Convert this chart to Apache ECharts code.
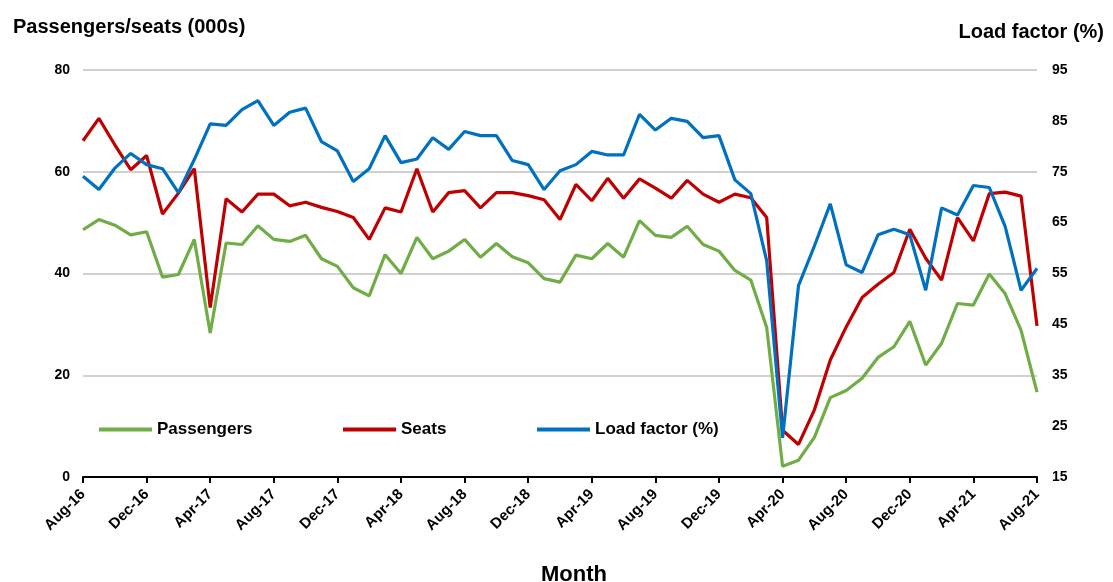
<!DOCTYPE html>
<html>
<head>
<meta charset="utf-8">
<script src="https://cdn.jsdelivr.net/npm/echarts@6/dist/echarts.min.js"></script>
<style>
html,body{margin:0;padding:0;background:#fff;}
#chart{width:1113px;height:582px;}
</style>
</head>
<body>
<div id="chart"></div>
<script>
const months = [
  'Aug-16','Sep-16','Oct-16','Nov-16','Dec-16','Jan-17','Feb-17','Mar-17','Apr-17','May-17','Jun-17','Jul-17',
  'Aug-17','Sep-17','Oct-17','Nov-17','Dec-17','Jan-18','Feb-18','Mar-18','Apr-18','May-18','Jun-18','Jul-18',
  'Aug-18','Sep-18','Oct-18','Nov-18','Dec-18','Jan-19','Feb-19','Mar-19','Apr-19','May-19','Jun-19','Jul-19',
  'Aug-19','Sep-19','Oct-19','Nov-19','Dec-19','Jan-20','Feb-20','Mar-20','Apr-20','May-20','Jun-20','Jul-20',
  'Aug-20','Sep-20','Oct-20','Nov-20','Dec-20','Jan-21','Feb-21','Mar-21','Apr-21','May-21','Jun-21','Jul-21',
  'Aug-21'
];
const passengers = [
  48.6,50.6,49.5,47.6,48.2,39.3,39.8,46.7,28.3,46.0,45.7,49.4,
  46.7,46.3,47.5,42.9,41.4,37.2,35.6,43.7,40.0,47.1,42.9,44.4,
  46.7,43.2,45.9,43.3,42.1,39.0,38.3,43.6,42.9,45.9,43.2,50.4,
  47.5,47.1,49.3,45.7,44.4,40.6,38.7,29.4,2.1,3.3,7.8,15.6,
  17.0,19.4,23.5,25.6,30.6,22.0,26.3,34.1,33.8,39.9,36.0,28.8,
  16.7
];
const seats = [
  66.1,70.5,65.3,60.4,63.2,51.7,55.8,60.6,33.3,54.7,52.1,55.6,
  55.6,53.3,54.0,53.0,52.2,51.0,46.7,52.9,52.1,60.6,52.1,55.9,
  56.3,52.9,55.9,55.9,55.3,54.5,50.6,57.5,54.3,58.7,54.8,58.6,
  56.8,54.8,58.3,55.6,54.0,55.6,54.9,51.0,9.2,6.4,13.2,23.0,
  29.5,35.3,37.9,40.2,48.7,43.0,38.7,51.0,46.4,55.7,56.0,55.2,
  29.7
];
const loadFactor = [
  74.1,71.5,75.7,78.6,76.4,75.6,70.9,77.4,84.4,84.1,87.2,89.0,
  84.1,86.7,87.5,80.9,79.1,73.1,75.6,82.1,76.8,77.5,81.7,79.4,
  82.9,82.1,82.1,77.2,76.4,71.5,75.2,76.4,79.0,78.3,78.3,86.3,
  83.2,85.5,84.9,81.7,82.1,73.4,70.7,57.5,22.7,52.6,60.4,68.7,
  56.7,55.2,62.6,63.7,62.6,51.7,67.9,66.5,72.3,71.9,64.2,51.7,
  56.0
];

const FONT = 'Liberation Sans, Arial, sans-serif';
const chart = echarts.init(document.getElementById('chart'), null, {renderer: 'canvas'});
const lineStyleFor = (c) => ({width: 3.2, color: c});
const legendText = {fontFamily: FONT, fontSize: 17, fontWeight: 'bold', color: '#000'};
const mkLegend = (name, left) => ({
  left: left, top: 416, itemWidth: 53, itemHeight: 4, icon: 'rect',
  textStyle: legendText, data: [name]
});

chart.setOption({
  animation: false,
  backgroundColor: '#ffffff',
  title: [
    {text: 'Passengers/seats (000s)', left: 8, top: 12,
      textStyle: {fontFamily: FONT, fontSize: 20, fontWeight: 'bold', color: '#000'}},
    {text: 'Load factor (%)', right: 4, top: 17,
      textStyle: {fontFamily: FONT, fontSize: 20, fontWeight: 'bold', color: '#000'}}
  ],
  graphic: [
    {type: 'text', left: 541, top: 564, z: 10,
      style: {text: 'Month', fontFamily: FONT, fontSize: 22, fontWeight: 'bold', fill: '#000'}}
  ],
  legend: [
    mkLegend('Passengers', 94),
    mkLegend('Seats', 338),
    mkLegend('Load factor (%)', 532)
  ],
  grid: {left: 83, right: 76, top: 70, bottom: 105, containLabel: false},
  xAxis: {
    type: 'category',
    data: months,
    boundaryGap: false,
    axisLine: {show: true, lineStyle: {color: '#000', width: 2}},
    axisTick: {show: true, interval: 3, length: 6, lineStyle: {color: '#000', width: 2}},
    axisLabel: {interval: 3, rotate: 45, fontFamily: FONT, fontSize: 15, fontWeight: 'bold', color: '#000', margin: 15},
    splitLine: {show: false}
  },
  yAxis: [
    {
      type: 'value', min: 0, max: 80, interval: 20,
      axisLine: {show: false}, axisTick: {show: false},
      axisLabel: {fontFamily: FONT, fontSize: 14, fontWeight: 'bold', color: '#000', margin: 13},
      splitLine: {show: true, lineStyle: {color: '#c0c0c0', width: 1.5}}
    },
    {
      type: 'value', min: 15, max: 95, interval: 10,
      axisLine: {show: false}, axisTick: {show: false},
      axisLabel: {fontFamily: FONT, fontSize: 14, fontWeight: 'bold', color: '#000', margin: 15},
      splitLine: {show: false}
    }
  ],
  series: [
    {name: 'Passengers', type: 'line', data: passengers, yAxisIndex: 0, showSymbol: false, symbol: 'none',
      color: '#70ad47', lineStyle: lineStyleFor('#70ad47')},
    {name: 'Seats', type: 'line', data: seats, yAxisIndex: 0, showSymbol: false, symbol: 'none',
      color: '#c00000', lineStyle: lineStyleFor('#c00000')},
    {name: 'Load factor (%)', type: 'line', data: loadFactor, yAxisIndex: 1, showSymbol: false, symbol: 'none',
      color: '#0070c0', lineStyle: lineStyleFor('#0070c0')}
  ]
});
</script>
</body>
</html>
